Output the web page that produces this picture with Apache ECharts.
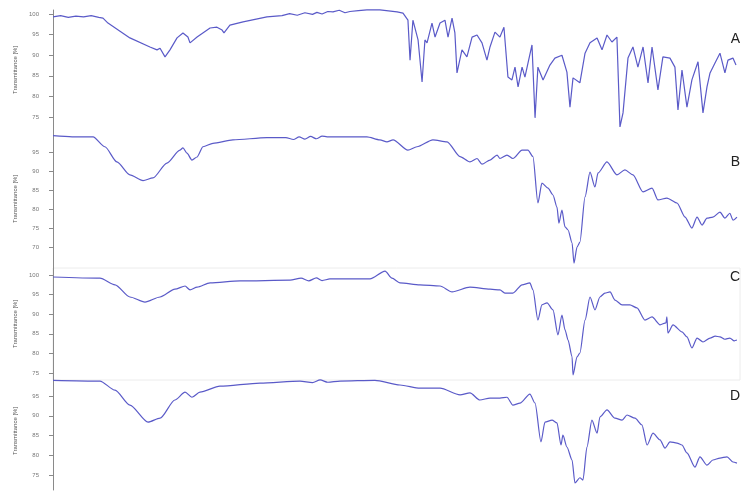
<!DOCTYPE html>
<html>
<head>
<meta charset="utf-8">
<script src="https://cdn.jsdelivr.net/npm/echarts@6/dist/echarts.min.js"></script>
<style>
  html, body { margin: 0; padding: 0; background: #fff; }
  #chart { width: 752px; height: 494px; }
</style>
</head>
<body>
<div id="chart"></div>
<script>
// spectra: [wavenumber cm-1, transmittance %]
var spectrumA = [
    [4000, 99.3], [3960, 99.6], [3920, 99.2], [3880, 99.5], [3840, 99.3], [3800, 99.6], [3760, 99.2], [3738, 99.0],
    [3712, 97.8], [3597, 94.2], [3492, 92.0], [3455, 91.3], [3439, 91.7], [3413, 89.6], [3387, 91.3], [3350, 94.2],
    [3319, 95.4], [3293, 94.4], [3282, 93.0], [3245, 94.4], [3177, 96.6], [3141, 96.8], [3114, 96.1], [3104, 95.4],
    [3073, 97.3], [3004, 98.1], [2879, 99.3], [2800, 99.6], [2760, 100.1], [2720, 99.7], [2680, 100.3], [2640, 99.9],
    [2617, 100.4], [2590, 100.0], [2560, 100.6], [2533, 100.5], [2500, 100.9], [2470, 100.3], [2444, 100.6],
    [2400, 100.8], [2355, 101.0], [2287, 101.0], [2197, 100.5], [2166, 100.2], [2140, 98.5], [2129, 88.8],
    [2114, 98.5], [2087, 93.7], [2066, 83.5], [2051, 93.7], [2040, 93.0], [2014, 97.8], [1998, 94.4], [1972, 97.8],
    [1946, 98.5], [1930, 94.4], [1909, 99.0], [1894, 95.4], [1883, 85.7], [1857, 91.3], [1831, 89.6], [1804, 94.4],
    [1778, 94.9], [1752, 93.0], [1726, 88.8], [1710, 92.0], [1684, 95.6], [1658, 94.4], [1637, 96.8], [1616, 84.7],
    [1595, 84.0], [1579, 87.1], [1563, 82.3], [1542, 87.1], [1527, 84.7], [1511, 88.1], [1490, 92.5], [1474, 74.8],
    [1459, 87.1], [1432, 84.0], [1396, 87.6], [1370, 89.3], [1333, 90.0], [1307, 85.9], [1291, 77.4], [1275, 84.5],
    [1239, 83.3], [1212, 90.5], [1186, 93.0], [1149, 94.2], [1123, 91.3], [1097, 94.9], [1071, 93.2], [1045, 94.4],
    [1029, 72.6], [1013, 76.0], [987, 89.3], [961, 92.0], [935, 87.1], [908, 92.0], [882, 83.3], [861, 92.0],
    [830, 81.6], [804, 89.6], [767, 89.3], [741, 87.1], [725, 76.7], [704, 86.4], [678, 77.4], [652, 84.0],
    [620, 88.4], [594, 76.0], [573, 82.3], [557, 85.7], [531, 88.1], [505, 90.5], [479, 85.7], [463, 88.8],
    [437, 89.3], [421, 87.6]
];
var spectrumB = [
    [4000, 99.3], [3900, 99.0], [3790, 99.0], [3728, 96.4], [3665, 92.4], [3597, 89.0], [3528, 87.5], [3476, 88.2],
    [3403, 92.1], [3335, 95.5], [3319, 96.1], [3298, 94.7], [3272, 92.9], [3245, 93.7], [3214, 96.4], [3162, 97.3],
    [3057, 98.2], [2879, 98.8], [2780, 98.8], [2740, 98.3], [2710, 99.0], [2680, 98.4], [2650, 99.1], [2620, 98.5],
    [2590, 99.2], [2564, 99.0], [2355, 99.0], [2287, 98.2], [2250, 97.7], [2218, 98.2], [2140, 95.5], [2093, 96.4],
    [2009, 98.2], [1935, 97.7], [1867, 93.8], [1815, 92.4], [1778, 93.3], [1752, 91.8], [1710, 92.9], [1673, 94.2],
    [1658, 93.3], [1621, 94.2], [1590, 93.3], [1542, 95.5], [1511, 95.5], [1485, 93.8], [1459, 81.6], [1438, 86.8],
    [1406, 85.5], [1380, 83.7], [1359, 80.5], [1349, 76.3], [1333, 79.7], [1317, 75.3], [1301, 74.5], [1280, 71.1],
    [1270, 65.8], [1254, 70.0], [1239, 71.3], [1212, 83.2], [1186, 89.7], [1160, 85.8], [1144, 89.5], [1097, 92.4],
    [1045, 89.0], [1003, 90.3], [961, 89.0], [908, 84.5], [861, 85.5], [830, 82.4], [783, 82.9], [730, 81.6],
    [688, 77.9], [652, 75.0], [625, 77.9], [599, 75.8], [573, 77.6], [542, 77.9], [505, 79.2], [479, 77.6],
    [453, 78.9], [437, 77.1], [416, 77.9]
];
var spectrumC = [
    [4000, 99.5], [3754, 99.2], [3675, 97.5], [3597, 94.4], [3518, 93.1], [3439, 94.4], [3361, 96.4], [3308, 97.2],
    [3282, 96.2], [3245, 96.9], [3177, 98.0], [3020, 98.5], [2758, 98.7], [2700, 99.2], [2660, 98.5], [2620, 99.3],
    [2590, 98.6], [2549, 99.0], [2339, 99.0], [2260, 101.0], [2224, 99.2], [2182, 98.0], [2077, 97.5], [1972, 97.2],
    [1909, 95.7], [1815, 96.9], [1710, 96.4], [1658, 96.2], [1632, 95.4], [1590, 95.4], [1542, 97.5], [1501, 98.0],
    [1485, 96.2], [1459, 88.5], [1438, 92.4], [1411, 92.9], [1380, 91.1], [1354, 84.7], [1333, 89.8], [1317, 86.0],
    [1301, 83.4], [1280, 79.1], [1275, 74.5], [1254, 79.1], [1239, 80.1], [1212, 88.5], [1186, 94.4], [1160, 91.1],
    [1134, 94.4], [1108, 95.4], [1081, 95.7], [1055, 93.6], [1018, 92.4], [977, 92.4], [940, 91.6], [898, 88.5],
    [861, 89.3], [819, 87.3], [788, 87.8], [783, 89.3], [778, 85.2], [751, 87.3], [704, 85.5], [678, 84.2],
    [652, 81.4], [625, 83.9], [594, 82.9], [557, 83.9], [530, 84.4], [505, 84.2], [480, 83.6], [453, 83.9],
    [430, 83.2], [416, 83.4]
];
var spectrumD = [
    [4000, 99.0], [3754, 98.8], [3675, 96.5], [3597, 92.7], [3502, 88.4], [3439, 89.4], [3361, 94.0], [3308, 96.0],
    [3272, 94.7], [3230, 96.0], [3125, 97.5], [2915, 98.3], [2706, 98.8], [2640, 98.4], [2600, 99.1], [2560, 98.5],
    [2496, 98.8], [2313, 99.0], [2182, 97.8], [2077, 97.0], [1972, 97.0], [1867, 95.3], [1815, 95.8], [1763, 94.0],
    [1710, 94.5], [1658, 94.5], [1621, 94.7], [1590, 92.7], [1553, 93.2], [1501, 95.5], [1474, 93.2], [1443, 83.4],
    [1422, 88.4], [1385, 88.9], [1359, 88.2], [1338, 82.6], [1328, 85.1], [1307, 82.1], [1280, 78.8], [1265, 73.0],
    [1239, 74.3], [1223, 73.7], [1202, 82.1], [1176, 88.9], [1149, 85.6], [1134, 89.7], [1097, 91.5], [1055, 89.4],
    [1018, 88.9], [992, 90.2], [950, 89.4], [914, 87.7], [887, 82.6], [856, 85.6], [819, 83.9], [793, 81.8],
    [767, 83.4], [730, 83.1], [704, 82.6], [678, 80.6], [636, 77.0], [610, 79.6], [573, 77.5], [542, 78.8],
    [505, 79.3], [468, 79.6], [437, 78.3], [416, 78.0]
];

var panelNames = ['A', 'B', 'C', 'D'];
var ticksA = [100, 95, 90, 85, 80, 75];
var ticksB = [95, 90, 85, 80, 75, 70];
var ticksC = [100, 95, 90, 85, 80, 75];
var ticksD = [95, 90, 85, 80, 75];

var spectra = [spectrumA, spectrumB, spectrumC, spectrumD];
var tickSets = [ticksA, ticksB, ticksC, ticksD];

// grid placement and y range of each panel
var panels = [
    {top: 10, height: 120, min: 71.85, max: 100.97, label: 27},
    {top: 130, height: 138, min: 64.5, max: 100.8, label: 150},
    {top: 268, height: 112, min: 73.2, max: 101.8, label: 265},
    {top: 372, height: 118, min: 71.2, max: 101.1, label: 384}
];

var chart = echarts.init(document.getElementById('chart'));

var grids = [], xAxes = [], yAxes = [], series = [], titles = [];
panels.forEach(function (p, i) {
    grids.push({
        left: 53, right: 12, top: p.top, height: p.height,
        show: i == 2, borderColor: '#ececec', borderWidth: 1
    });
    xAxes.push({
        type: 'value', gridIndex: i, min: 400, max: 4000, inverse: true, show: false
    });
    yAxes.push({
        type: 'value', gridIndex: i, min: p.min, max: p.max,
        name: 'Transmittance [%]',
        nameLocation: 'middle',
        nameGap: 35,
        nameTextStyle: {fontSize: 6, color: '#555', fontFamily: 'Liberation Sans'},
        axisLine: {show: true, lineStyle: {color: '#8a8a8a', width: 1}},
        axisTick: {show: true, length: 4, customValues: tickSets[i], lineStyle: {color: '#8a8a8a'}},
        axisLabel: {
            customValues: tickSets[i], fontSize: 6, color: '#777', margin: 14,
            fontFamily: 'Liberation Sans'
        },
        splitLine: {show: false}
    });
    series.push({
        type: 'line',
        xAxisIndex: i, yAxisIndex: i,
        data: spectra[i],
        showSymbol: false,
        clip: false,
        smooth: i == 0 ? false : 0.25,
        smoothMonotone: 'x',
        lineStyle: {color: '#5a5ac8', width: 1.2}
    });
    titles.push({
        text: panelNames[i], right: 7, top: p.label,
        textStyle: {fontSize: 14, fontWeight: 'normal', color: '#222', fontFamily: 'Liberation Sans'}
    });
});

var option = {
    animation: false,
    backgroundColor: '#fff',
    title: titles,
    grid: grids,
    xAxis: xAxes,
    yAxis: yAxes,
    series: series
};

chart.setOption(option);
</script>
</body>
</html>
